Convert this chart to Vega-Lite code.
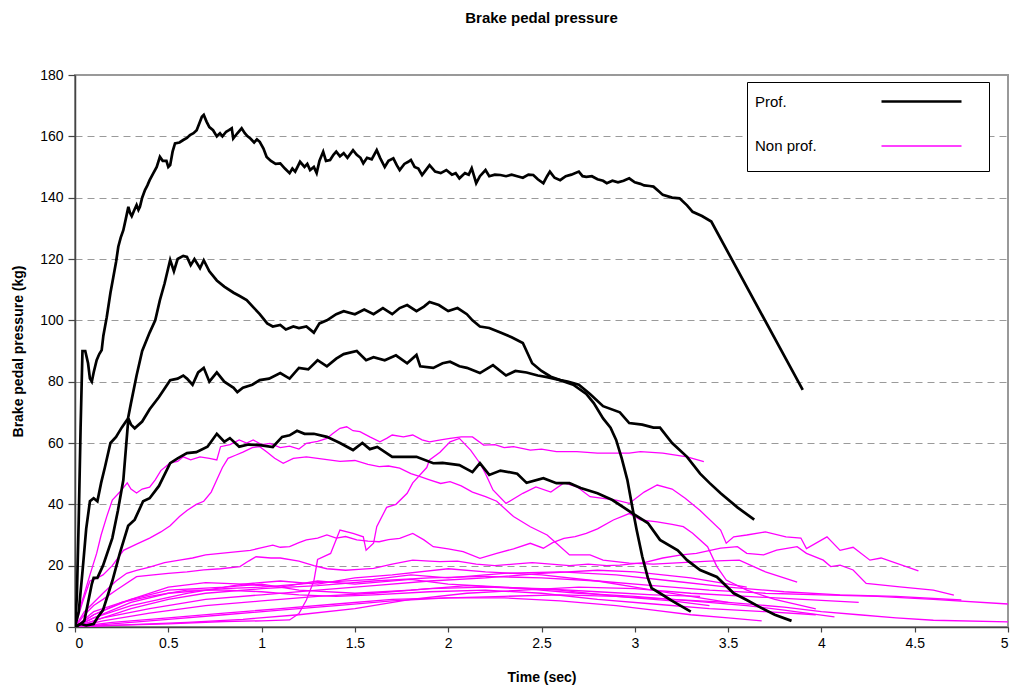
{
"$schema": "https://vega.github.io/schema/vega-lite/v6.json",
"width": 933, "height": 552,
"autosize": {"type": "none"},
"padding": {"left": 75, "top": 75, "right": 2, "bottom": 63},
"background": "white",
"title": {"text": "Brake pedal pressure", "font": "Liberation Sans", "fontSize": 15, "fontWeight": "bold", "anchor": "middle", "offset": 42, "color": "black"},
"config": {
  "view": {"stroke": "#999999", "strokeWidth": 2},
  "axis": {"labelFont": "Liberation Sans", "titleFont": "Liberation Sans", "labelFontSize": 14, "titleFontSize": 14, "titleFontWeight": "bold", "labelColor": "black", "titleColor": "black", "domainColor": "#444444", "domainWidth": 1.5, "tickColor": "#444444", "tickWidth": 1.2}
},
"datasets": {
"prof": [
{"s":"A","g":"Prof.","t":0,"v":0},{"s":"A","g":"Prof.","t":0.01,"v":10},{"s":"A","g":"Prof.","t":0.02,"v":35},{"s":"A","g":"Prof.","t":0.03,"v":65},{"s":"A","g":"Prof.","t":0.04,"v":90},{"s":"A","g":"Prof.","t":0.055,"v":90},{"s":"A","g":"Prof.","t":0.07,"v":86},{"s":"A","g":"Prof.","t":0.08,"v":81},{"s":"A","g":"Prof.","t":0.09,"v":80},{"s":"A","g":"Prof.","t":0.1,"v":83},{"s":"A","g":"Prof.","t":0.116,"v":87},{"s":"A","g":"Prof.","t":0.13,"v":89},{"s":"A","g":"Prof.","t":0.143,"v":90.3},{"s":"A","g":"Prof.","t":0.152,"v":95},{"s":"A","g":"Prof.","t":0.17,"v":101},{"s":"A","g":"Prof.","t":0.19,"v":109},{"s":"A","g":"Prof.","t":0.205,"v":114},{"s":"A","g":"Prof.","t":0.22,"v":119},{"s":"A","g":"Prof.","t":0.232,"v":124},{"s":"A","g":"Prof.","t":0.245,"v":127},{"s":"A","g":"Prof.","t":0.259,"v":129.4},{"s":"A","g":"Prof.","t":0.272,"v":133},{"s":"A","g":"Prof.","t":0.286,"v":137},{"s":"A","g":"Prof.","t":0.295,"v":135},{"s":"A","g":"Prof.","t":0.304,"v":134},{"s":"A","g":"Prof.","t":0.318,"v":136},{"s":"A","g":"Prof.","t":0.33,"v":137.6},{"s":"A","g":"Prof.","t":0.34,"v":136},{"s":"A","g":"Prof.","t":0.348,"v":137},{"s":"A","g":"Prof.","t":0.36,"v":140},{"s":"A","g":"Prof.","t":0.375,"v":142.5},{"s":"A","g":"Prof.","t":0.388,"v":144},{"s":"A","g":"Prof.","t":0.4,"v":145.7},{"s":"A","g":"Prof.","t":0.42,"v":148},{"s":"A","g":"Prof.","t":0.438,"v":150},{"s":"A","g":"Prof.","t":0.455,"v":153.3},{"s":"A","g":"Prof.","t":0.47,"v":152},{"s":"A","g":"Prof.","t":0.49,"v":152},{"s":"A","g":"Prof.","t":0.5,"v":150},{"s":"A","g":"Prof.","t":0.51,"v":150.6},{"s":"A","g":"Prof.","t":0.523,"v":155},{"s":"A","g":"Prof.","t":0.536,"v":157.7},{"s":"A","g":"Prof.","t":0.56,"v":158},{"s":"A","g":"Prof.","t":0.58,"v":158.8},{"s":"A","g":"Prof.","t":0.6,"v":159.5},{"s":"A","g":"Prof.","t":0.616,"v":160.4},{"s":"A","g":"Prof.","t":0.635,"v":161},{"s":"A","g":"Prof.","t":0.652,"v":162},{"s":"A","g":"Prof.","t":0.665,"v":164},{"s":"A","g":"Prof.","t":0.68,"v":166.4},{"s":"A","g":"Prof.","t":0.69,"v":167},{"s":"A","g":"Prof.","t":0.705,"v":164.8},{"s":"A","g":"Prof.","t":0.72,"v":163},{"s":"A","g":"Prof.","t":0.74,"v":162},{"s":"A","g":"Prof.","t":0.76,"v":160},{"s":"A","g":"Prof.","t":0.777,"v":161},{"s":"A","g":"Prof.","t":0.79,"v":160},{"s":"A","g":"Prof.","t":0.81,"v":161.5},{"s":"A","g":"Prof.","t":0.825,"v":162},{"s":"A","g":"Prof.","t":0.84,"v":162.6},{"s":"A","g":"Prof.","t":0.848,"v":159.3},{"s":"A","g":"Prof.","t":0.87,"v":161},{"s":"A","g":"Prof.","t":0.893,"v":162.6},{"s":"A","g":"Prof.","t":0.91,"v":161},{"s":"A","g":"Prof.","t":0.925,"v":160},{"s":"A","g":"Prof.","t":0.94,"v":159.3},{"s":"A","g":"Prof.","t":0.96,"v":158},{"s":"A","g":"Prof.","t":0.975,"v":159},{"s":"A","g":"Prof.","t":0.99,"v":158.2},{"s":"A","g":"Prof.","t":1.01,"v":156},{"s":"A","g":"Prof.","t":1.027,"v":153.3},{"s":"A","g":"Prof.","t":1.05,"v":152},{"s":"A","g":"Prof.","t":1.075,"v":151},{"s":"A","g":"Prof.","t":1.1,"v":151.2},{"s":"A","g":"Prof.","t":1.125,"v":149.5},{"s":"A","g":"Prof.","t":1.15,"v":148},{"s":"A","g":"Prof.","t":1.165,"v":149.5},{"s":"A","g":"Prof.","t":1.18,"v":148.5},{"s":"A","g":"Prof.","t":1.206,"v":151.7},{"s":"A","g":"Prof.","t":1.23,"v":150},{"s":"A","g":"Prof.","t":1.245,"v":151},{"s":"A","g":"Prof.","t":1.26,"v":149},{"s":"A","g":"Prof.","t":1.28,"v":150},{"s":"A","g":"Prof.","t":1.295,"v":148},{"s":"A","g":"Prof.","t":1.31,"v":152},{"s":"A","g":"Prof.","t":1.33,"v":155},{"s":"A","g":"Prof.","t":1.345,"v":152},{"s":"A","g":"Prof.","t":1.367,"v":152.3},{"s":"A","g":"Prof.","t":1.385,"v":154},{"s":"A","g":"Prof.","t":1.4,"v":155},{"s":"A","g":"Prof.","t":1.42,"v":153.5},{"s":"A","g":"Prof.","t":1.44,"v":154.5},{"s":"A","g":"Prof.","t":1.46,"v":153},{"s":"A","g":"Prof.","t":1.49,"v":155.5},{"s":"A","g":"Prof.","t":1.51,"v":154},{"s":"A","g":"Prof.","t":1.53,"v":153},{"s":"A","g":"Prof.","t":1.545,"v":151.2},{"s":"A","g":"Prof.","t":1.565,"v":153},{"s":"A","g":"Prof.","t":1.59,"v":152.5},{"s":"A","g":"Prof.","t":1.617,"v":155.5},{"s":"A","g":"Prof.","t":1.635,"v":153},{"s":"A","g":"Prof.","t":1.66,"v":150},{"s":"A","g":"Prof.","t":1.68,"v":152},{"s":"A","g":"Prof.","t":1.706,"v":152.8},{"s":"A","g":"Prof.","t":1.725,"v":150.5},{"s":"A","g":"Prof.","t":1.74,"v":149},{"s":"A","g":"Prof.","t":1.765,"v":151},{"s":"A","g":"Prof.","t":1.786,"v":151.7},{"s":"A","g":"Prof.","t":1.8,"v":152.3},{"s":"A","g":"Prof.","t":1.82,"v":150},{"s":"A","g":"Prof.","t":1.84,"v":149.5},{"s":"A","g":"Prof.","t":1.86,"v":147.4},{"s":"A","g":"Prof.","t":1.88,"v":149},{"s":"A","g":"Prof.","t":1.9,"v":150.6},{"s":"A","g":"Prof.","t":1.93,"v":148.5},{"s":"A","g":"Prof.","t":1.96,"v":148},{"s":"A","g":"Prof.","t":1.99,"v":149},{"s":"A","g":"Prof.","t":2.02,"v":147.5},{"s":"A","g":"Prof.","t":2.04,"v":148},{"s":"A","g":"Prof.","t":2.06,"v":146.3},{"s":"A","g":"Prof.","t":2.09,"v":148},{"s":"A","g":"Prof.","t":2.11,"v":147.5},{"s":"A","g":"Prof.","t":2.126,"v":149.6},{"s":"A","g":"Prof.","t":2.15,"v":144.7},{"s":"A","g":"Prof.","t":2.17,"v":147},{"s":"A","g":"Prof.","t":2.2,"v":149},{"s":"A","g":"Prof.","t":2.22,"v":147},{"s":"A","g":"Prof.","t":2.25,"v":147.5},{"s":"A","g":"Prof.","t":2.28,"v":147.4},{"s":"A","g":"Prof.","t":2.31,"v":147},{"s":"A","g":"Prof.","t":2.34,"v":147.5},{"s":"A","g":"Prof.","t":2.37,"v":147},{"s":"A","g":"Prof.","t":2.4,"v":146.5},{"s":"A","g":"Prof.","t":2.43,"v":147.5},{"s":"A","g":"Prof.","t":2.456,"v":147.4},{"s":"A","g":"Prof.","t":2.48,"v":146},{"s":"A","g":"Prof.","t":2.51,"v":144.7},{"s":"A","g":"Prof.","t":2.53,"v":147},{"s":"A","g":"Prof.","t":2.545,"v":148.5},{"s":"A","g":"Prof.","t":2.57,"v":146.5},{"s":"A","g":"Prof.","t":2.6,"v":145.7},{"s":"A","g":"Prof.","t":2.63,"v":147},{"s":"A","g":"Prof.","t":2.66,"v":147.5},{"s":"A","g":"Prof.","t":2.7,"v":148.5},{"s":"A","g":"Prof.","t":2.72,"v":147},{"s":"A","g":"Prof.","t":2.74,"v":146.8},{"s":"A","g":"Prof.","t":2.77,"v":147},{"s":"A","g":"Prof.","t":2.8,"v":146},{"s":"A","g":"Prof.","t":2.83,"v":145.5},{"s":"A","g":"Prof.","t":2.85,"v":144.7},{"s":"A","g":"Prof.","t":2.88,"v":145.5},{"s":"A","g":"Prof.","t":2.91,"v":145},{"s":"A","g":"Prof.","t":2.94,"v":145.5},{"s":"A","g":"Prof.","t":2.97,"v":146.3},{"s":"A","g":"Prof.","t":3.0,"v":145},{"s":"A","g":"Prof.","t":3.03,"v":144.5},{"s":"A","g":"Prof.","t":3.05,"v":144},{"s":"A","g":"Prof.","t":3.08,"v":143.8},{"s":"A","g":"Prof.","t":3.1,"v":143.6},{"s":"A","g":"Prof.","t":3.13,"v":142},{"s":"A","g":"Prof.","t":3.15,"v":140.9},{"s":"A","g":"Prof.","t":3.2,"v":140},{"s":"A","g":"Prof.","t":3.24,"v":139.8},{"s":"A","g":"Prof.","t":3.28,"v":137.5},{"s":"A","g":"Prof.","t":3.31,"v":135.4},{"s":"A","g":"Prof.","t":3.36,"v":134},{"s":"A","g":"Prof.","t":3.41,"v":132.2},{"s":"A","g":"Prof.","t":3.9,"v":77.3},
{"s":"B","g":"Prof.","t":0,"v":0},{"s":"B","g":"Prof.","t":0.02,"v":5},{"s":"B","g":"Prof.","t":0.04,"v":18},{"s":"B","g":"Prof.","t":0.06,"v":32},{"s":"B","g":"Prof.","t":0.08,"v":41},{"s":"B","g":"Prof.","t":0.1,"v":42},{"s":"B","g":"Prof.","t":0.12,"v":41},{"s":"B","g":"Prof.","t":0.14,"v":47},{"s":"B","g":"Prof.","t":0.16,"v":52},{"s":"B","g":"Prof.","t":0.19,"v":60},{"s":"B","g":"Prof.","t":0.22,"v":62},{"s":"B","g":"Prof.","t":0.25,"v":65},{"s":"B","g":"Prof.","t":0.284,"v":68},{"s":"B","g":"Prof.","t":0.3,"v":73},{"s":"B","g":"Prof.","t":0.33,"v":82},{"s":"B","g":"Prof.","t":0.36,"v":90},{"s":"B","g":"Prof.","t":0.4,"v":96},{"s":"B","g":"Prof.","t":0.43,"v":100},{"s":"B","g":"Prof.","t":0.455,"v":106.6},{"s":"B","g":"Prof.","t":0.48,"v":112},{"s":"B","g":"Prof.","t":0.51,"v":119.7},{"s":"B","g":"Prof.","t":0.53,"v":116},{"s":"B","g":"Prof.","t":0.55,"v":120},{"s":"B","g":"Prof.","t":0.58,"v":121},{"s":"B","g":"Prof.","t":0.6,"v":120.7},{"s":"B","g":"Prof.","t":0.62,"v":118},{"s":"B","g":"Prof.","t":0.64,"v":120},{"s":"B","g":"Prof.","t":0.67,"v":117},{"s":"B","g":"Prof.","t":0.69,"v":119.6},{"s":"B","g":"Prof.","t":0.72,"v":116},{"s":"B","g":"Prof.","t":0.76,"v":113},{"s":"B","g":"Prof.","t":0.8,"v":111},{"s":"B","g":"Prof.","t":0.85,"v":109},{"s":"B","g":"Prof.","t":0.88,"v":108},{"s":"B","g":"Prof.","t":0.92,"v":106.6},{"s":"B","g":"Prof.","t":0.96,"v":104},{"s":"B","g":"Prof.","t":0.99,"v":102},{"s":"B","g":"Prof.","t":1.03,"v":99},{"s":"B","g":"Prof.","t":1.06,"v":98},{"s":"B","g":"Prof.","t":1.1,"v":98.5},{"s":"B","g":"Prof.","t":1.13,"v":97},{"s":"B","g":"Prof.","t":1.17,"v":98},{"s":"B","g":"Prof.","t":1.2,"v":97.5},{"s":"B","g":"Prof.","t":1.24,"v":98},{"s":"B","g":"Prof.","t":1.28,"v":96},{"s":"B","g":"Prof.","t":1.31,"v":99},{"s":"B","g":"Prof.","t":1.35,"v":100},{"s":"B","g":"Prof.","t":1.4,"v":102},{"s":"B","g":"Prof.","t":1.44,"v":103},{"s":"B","g":"Prof.","t":1.5,"v":102},{"s":"B","g":"Prof.","t":1.55,"v":103.5},{"s":"B","g":"Prof.","t":1.6,"v":102},{"s":"B","g":"Prof.","t":1.65,"v":104},{"s":"B","g":"Prof.","t":1.7,"v":102},{"s":"B","g":"Prof.","t":1.74,"v":104},{"s":"B","g":"Prof.","t":1.78,"v":105},{"s":"B","g":"Prof.","t":1.83,"v":103},{"s":"B","g":"Prof.","t":1.87,"v":104.5},{"s":"B","g":"Prof.","t":1.9,"v":106},{"s":"B","g":"Prof.","t":1.95,"v":105},{"s":"B","g":"Prof.","t":2.0,"v":103},{"s":"B","g":"Prof.","t":2.05,"v":104},{"s":"B","g":"Prof.","t":2.1,"v":102},{"s":"B","g":"Prof.","t":2.13,"v":100},{"s":"B","g":"Prof.","t":2.17,"v":98},{"s":"B","g":"Prof.","t":2.22,"v":97.5},{"s":"B","g":"Prof.","t":2.28,"v":96},{"s":"B","g":"Prof.","t":2.34,"v":94.5},{"s":"B","g":"Prof.","t":2.4,"v":92.6},{"s":"B","g":"Prof.","t":2.45,"v":86},{"s":"B","g":"Prof.","t":2.5,"v":83.5},{"s":"B","g":"Prof.","t":2.55,"v":81.6},{"s":"B","g":"Prof.","t":2.6,"v":80.5},{"s":"B","g":"Prof.","t":2.67,"v":79},{"s":"B","g":"Prof.","t":2.74,"v":76},{"s":"B","g":"Prof.","t":2.78,"v":73},{"s":"B","g":"Prof.","t":2.83,"v":68},{"s":"B","g":"Prof.","t":2.87,"v":65},{"s":"B","g":"Prof.","t":2.9,"v":61},{"s":"B","g":"Prof.","t":2.93,"v":55},{"s":"B","g":"Prof.","t":2.96,"v":48},{"s":"B","g":"Prof.","t":2.99,"v":38},{"s":"B","g":"Prof.","t":3.01,"v":31.6},{"s":"B","g":"Prof.","t":3.04,"v":23},{"s":"B","g":"Prof.","t":3.07,"v":16},{"s":"B","g":"Prof.","t":3.09,"v":12.7},{"s":"B","g":"Prof.","t":3.135,"v":11},{"s":"B","g":"Prof.","t":3.2,"v":8.5},{"s":"B","g":"Prof.","t":3.3,"v":5},
{"s":"C","g":"Prof.","t":0,"v":0},{"s":"C","g":"Prof.","t":0.03,"v":1},{"s":"C","g":"Prof.","t":0.05,"v":2},{"s":"C","g":"Prof.","t":0.07,"v":8},{"s":"C","g":"Prof.","t":0.09,"v":14},{"s":"C","g":"Prof.","t":0.1,"v":16},{"s":"C","g":"Prof.","t":0.12,"v":16},{"s":"C","g":"Prof.","t":0.15,"v":20},{"s":"C","g":"Prof.","t":0.2,"v":29},{"s":"C","g":"Prof.","t":0.23,"v":38},{"s":"C","g":"Prof.","t":0.259,"v":47.9},{"s":"C","g":"Prof.","t":0.286,"v":68},{"s":"C","g":"Prof.","t":0.3,"v":66},{"s":"C","g":"Prof.","t":0.32,"v":64.8},{"s":"C","g":"Prof.","t":0.36,"v":67},{"s":"C","g":"Prof.","t":0.4,"v":71},{"s":"C","g":"Prof.","t":0.45,"v":75},{"s":"C","g":"Prof.","t":0.51,"v":80.5},{"s":"C","g":"Prof.","t":0.55,"v":81},{"s":"C","g":"Prof.","t":0.58,"v":82},{"s":"C","g":"Prof.","t":0.6,"v":81},{"s":"C","g":"Prof.","t":0.63,"v":79},{"s":"C","g":"Prof.","t":0.66,"v":83},{"s":"C","g":"Prof.","t":0.69,"v":84.5},{"s":"C","g":"Prof.","t":0.72,"v":80},{"s":"C","g":"Prof.","t":0.76,"v":83},{"s":"C","g":"Prof.","t":0.8,"v":80},{"s":"C","g":"Prof.","t":0.85,"v":78},{"s":"C","g":"Prof.","t":0.87,"v":76.6},{"s":"C","g":"Prof.","t":0.9,"v":78},{"s":"C","g":"Prof.","t":0.95,"v":79},{"s":"C","g":"Prof.","t":0.99,"v":80.5},{"s":"C","g":"Prof.","t":1.04,"v":81},{"s":"C","g":"Prof.","t":1.1,"v":82.8},{"s":"C","g":"Prof.","t":1.15,"v":81},{"s":"C","g":"Prof.","t":1.2,"v":84.5},{"s":"C","g":"Prof.","t":1.25,"v":84},{"s":"C","g":"Prof.","t":1.3,"v":87},{"s":"C","g":"Prof.","t":1.35,"v":85},{"s":"C","g":"Prof.","t":1.4,"v":87.5},{"s":"C","g":"Prof.","t":1.44,"v":89},{"s":"C","g":"Prof.","t":1.51,"v":90},{"s":"C","g":"Prof.","t":1.56,"v":87},{"s":"C","g":"Prof.","t":1.6,"v":88},{"s":"C","g":"Prof.","t":1.66,"v":87},{"s":"C","g":"Prof.","t":1.72,"v":88.6},{"s":"C","g":"Prof.","t":1.78,"v":86},{"s":"C","g":"Prof.","t":1.83,"v":88.7},{"s":"C","g":"Prof.","t":1.85,"v":85},{"s":"C","g":"Prof.","t":1.92,"v":84.5},{"s":"C","g":"Prof.","t":1.97,"v":86},{"s":"C","g":"Prof.","t":2.01,"v":86.5},{"s":"C","g":"Prof.","t":2.06,"v":85},{"s":"C","g":"Prof.","t":2.1,"v":84.5},{"s":"C","g":"Prof.","t":2.17,"v":82.8},{"s":"C","g":"Prof.","t":2.24,"v":85.4},{"s":"C","g":"Prof.","t":2.31,"v":82},{"s":"C","g":"Prof.","t":2.36,"v":83.5},{"s":"C","g":"Prof.","t":2.42,"v":83},{"s":"C","g":"Prof.","t":2.48,"v":82},{"s":"C","g":"Prof.","t":2.53,"v":81.5},{"s":"C","g":"Prof.","t":2.6,"v":80.5},{"s":"C","g":"Prof.","t":2.64,"v":80},{"s":"C","g":"Prof.","t":2.7,"v":79},{"s":"C","g":"Prof.","t":2.76,"v":76},{"s":"C","g":"Prof.","t":2.83,"v":72},{"s":"C","g":"Prof.","t":2.92,"v":70},{"s":"C","g":"Prof.","t":2.97,"v":66.5},{"s":"C","g":"Prof.","t":3.04,"v":66},{"s":"C","g":"Prof.","t":3.1,"v":65},{"s":"C","g":"Prof.","t":3.135,"v":65},{"s":"C","g":"Prof.","t":3.2,"v":60},{"s":"C","g":"Prof.","t":3.28,"v":55.5},{"s":"C","g":"Prof.","t":3.35,"v":50},{"s":"C","g":"Prof.","t":3.4,"v":47},{"s":"C","g":"Prof.","t":3.46,"v":43.6},{"s":"C","g":"Prof.","t":3.55,"v":39},{"s":"C","g":"Prof.","t":3.64,"v":35},
{"s":"E","g":"Prof.","t":0,"v":0},{"s":"E","g":"Prof.","t":0.03,"v":1},{"s":"E","g":"Prof.","t":0.06,"v":0.5},{"s":"E","g":"Prof.","t":0.1,"v":1},{"s":"E","g":"Prof.","t":0.12,"v":3},{"s":"E","g":"Prof.","t":0.15,"v":5.5},{"s":"E","g":"Prof.","t":0.2,"v":15},{"s":"E","g":"Prof.","t":0.24,"v":24},{"s":"E","g":"Prof.","t":0.285,"v":33},{"s":"E","g":"Prof.","t":0.32,"v":35},{"s":"E","g":"Prof.","t":0.365,"v":41},{"s":"E","g":"Prof.","t":0.4,"v":42},{"s":"E","g":"Prof.","t":0.45,"v":46},{"s":"E","g":"Prof.","t":0.51,"v":53.4},{"s":"E","g":"Prof.","t":0.55,"v":55},{"s":"E","g":"Prof.","t":0.6,"v":56.7},{"s":"E","g":"Prof.","t":0.65,"v":57},{"s":"E","g":"Prof.","t":0.71,"v":58.8},{"s":"E","g":"Prof.","t":0.76,"v":63},{"s":"E","g":"Prof.","t":0.8,"v":60.4},{"s":"E","g":"Prof.","t":0.83,"v":61.6},{"s":"E","g":"Prof.","t":0.88,"v":58.8},{"s":"E","g":"Prof.","t":0.93,"v":59.5},{"s":"E","g":"Prof.","t":0.99,"v":59.3},{"s":"E","g":"Prof.","t":1.06,"v":58.7},{"s":"E","g":"Prof.","t":1.11,"v":62},{"s":"E","g":"Prof.","t":1.15,"v":62.5},{"s":"E","g":"Prof.","t":1.19,"v":64},{"s":"E","g":"Prof.","t":1.23,"v":63},{"s":"E","g":"Prof.","t":1.28,"v":63},{"s":"E","g":"Prof.","t":1.35,"v":62},{"s":"E","g":"Prof.","t":1.42,"v":60},{"s":"E","g":"Prof.","t":1.49,"v":57.7},{"s":"E","g":"Prof.","t":1.54,"v":60},{"s":"E","g":"Prof.","t":1.58,"v":58},{"s":"E","g":"Prof.","t":1.62,"v":58.7},{"s":"E","g":"Prof.","t":1.7,"v":55.5},{"s":"E","g":"Prof.","t":1.76,"v":55.5},{"s":"E","g":"Prof.","t":1.83,"v":55.5},{"s":"E","g":"Prof.","t":1.92,"v":53.4},{"s":"E","g":"Prof.","t":1.97,"v":53.5},{"s":"E","g":"Prof.","t":2.06,"v":52.8},{"s":"E","g":"Prof.","t":2.13,"v":50.5},{"s":"E","g":"Prof.","t":2.17,"v":53.4},{"s":"E","g":"Prof.","t":2.22,"v":49.6},{"s":"E","g":"Prof.","t":2.28,"v":51},{"s":"E","g":"Prof.","t":2.37,"v":50},{"s":"E","g":"Prof.","t":2.42,"v":47},{"s":"E","g":"Prof.","t":2.51,"v":48.5},{"s":"E","g":"Prof.","t":2.58,"v":46.9},{"s":"E","g":"Prof.","t":2.65,"v":46.9},{"s":"E","g":"Prof.","t":2.71,"v":45.3},{"s":"E","g":"Prof.","t":2.8,"v":43.6},{"s":"E","g":"Prof.","t":2.88,"v":41.4},{"s":"E","g":"Prof.","t":2.99,"v":37},{"s":"E","g":"Prof.","t":3.07,"v":33.9},{"s":"E","g":"Prof.","t":3.135,"v":28.4},{"s":"E","g":"Prof.","t":3.23,"v":25},{"s":"E","g":"Prof.","t":3.28,"v":21.8},{"s":"E","g":"Prof.","t":3.35,"v":18.6},{"s":"E","g":"Prof.","t":3.44,"v":16.3},{"s":"E","g":"Prof.","t":3.53,"v":11},{"s":"E","g":"Prof.","t":3.6,"v":8.8},{"s":"E","g":"Prof.","t":3.67,"v":6.5},{"s":"E","g":"Prof.","t":3.75,"v":4},{"s":"E","g":"Prof.","t":3.84,"v":2}
],
"np": [
{"s":"M1","g":"Non prof.","t":0,"v":0},{"s":"M1","g":"Non prof.","t":0.01,"v":3.4},{"s":"M1","g":"Non prof.","t":0.045,"v":9.8},{"s":"M1","g":"Non prof.","t":0.08,"v":17},{"s":"M1","g":"Non prof.","t":0.116,"v":24},{"s":"M1","g":"Non prof.","t":0.14,"v":30},{"s":"M1","g":"Non prof.","t":0.17,"v":36},{"s":"M1","g":"Non prof.","t":0.2,"v":41.4},{"s":"M1","g":"Non prof.","t":0.24,"v":44},{"s":"M1","g":"Non prof.","t":0.28,"v":47},{"s":"M1","g":"Non prof.","t":0.3,"v":45},{"s":"M1","g":"Non prof.","t":0.33,"v":43.7},{"s":"M1","g":"Non prof.","t":0.36,"v":45},{"s":"M1","g":"Non prof.","t":0.4,"v":45.6},{"s":"M1","g":"Non prof.","t":0.43,"v":48},{"s":"M1","g":"Non prof.","t":0.46,"v":51},{"s":"M1","g":"Non prof.","t":0.51,"v":53.5},{"s":"M1","g":"Non prof.","t":0.55,"v":54},{"s":"M1","g":"Non prof.","t":0.58,"v":55.5},{"s":"M1","g":"Non prof.","t":0.62,"v":54.5},{"s":"M1","g":"Non prof.","t":0.67,"v":55.5},{"s":"M1","g":"Non prof.","t":0.72,"v":55},{"s":"M1","g":"Non prof.","t":0.76,"v":54.5},{"s":"M1","g":"Non prof.","t":0.78,"v":58.8},{"s":"M1","g":"Non prof.","t":0.83,"v":59.5},{"s":"M1","g":"Non prof.","t":0.88,"v":61},{"s":"M1","g":"Non prof.","t":0.92,"v":60},{"s":"M1","g":"Non prof.","t":0.955,"v":61},{"s":"M1","g":"Non prof.","t":1.0,"v":59.5},{"s":"M1","g":"Non prof.","t":1.045,"v":59.9},{"s":"M1","g":"Non prof.","t":1.1,"v":58.5},{"s":"M1","g":"Non prof.","t":1.15,"v":59},{"s":"M1","g":"Non prof.","t":1.2,"v":58},{"s":"M1","g":"Non prof.","t":1.24,"v":59.9},{"s":"M1","g":"Non prof.","t":1.3,"v":60.5},{"s":"M1","g":"Non prof.","t":1.35,"v":61.5},{"s":"M1","g":"Non prof.","t":1.38,"v":63},{"s":"M1","g":"Non prof.","t":1.42,"v":64.8},{"s":"M1","g":"Non prof.","t":1.456,"v":65.3},{"s":"M1","g":"Non prof.","t":1.49,"v":64},{"s":"M1","g":"Non prof.","t":1.527,"v":63.7},{"s":"M1","g":"Non prof.","t":1.58,"v":62},{"s":"M1","g":"Non prof.","t":1.634,"v":60.4},{"s":"M1","g":"Non prof.","t":1.67,"v":61.5},{"s":"M1","g":"Non prof.","t":1.7,"v":62.6},{"s":"M1","g":"Non prof.","t":1.76,"v":62},{"s":"M1","g":"Non prof.","t":1.81,"v":62.6},{"s":"M1","g":"Non prof.","t":1.86,"v":61},{"s":"M1","g":"Non prof.","t":1.9,"v":60.4},{"s":"M1","g":"Non prof.","t":1.96,"v":61},{"s":"M1","g":"Non prof.","t":2.01,"v":61.5},{"s":"M1","g":"Non prof.","t":2.07,"v":62},{"s":"M1","g":"Non prof.","t":2.13,"v":62},{"s":"M1","g":"Non prof.","t":2.19,"v":59.3},{"s":"M1","g":"Non prof.","t":2.25,"v":59.5},{"s":"M1","g":"Non prof.","t":2.3,"v":58.5},{"s":"M1","g":"Non prof.","t":2.35,"v":58.8},{"s":"M1","g":"Non prof.","t":2.44,"v":57.7},{"s":"M1","g":"Non prof.","t":2.5,"v":58},{"s":"M1","g":"Non prof.","t":2.58,"v":57.2},{"s":"M1","g":"Non prof.","t":2.69,"v":57.2},{"s":"M1","g":"Non prof.","t":2.8,"v":56.7},{"s":"M1","g":"Non prof.","t":2.9,"v":56.7},{"s":"M1","g":"Non prof.","t":2.97,"v":56.7},{"s":"M1","g":"Non prof.","t":3.03,"v":57.2},{"s":"M1","g":"Non prof.","t":3.15,"v":56.7},{"s":"M1","g":"Non prof.","t":3.28,"v":55.5},{"s":"M1","g":"Non prof.","t":3.37,"v":53.9},
{"s":"M2","g":"Non prof.","t":0,"v":0},{"s":"M2","g":"Non prof.","t":0.04,"v":8},{"s":"M2","g":"Non prof.","t":0.08,"v":15},{"s":"M2","g":"Non prof.","t":0.12,"v":16},{"s":"M2","g":"Non prof.","t":0.15,"v":17},{"s":"M2","g":"Non prof.","t":0.2,"v":20},{"s":"M2","g":"Non prof.","t":0.26,"v":25},{"s":"M2","g":"Non prof.","t":0.33,"v":27},{"s":"M2","g":"Non prof.","t":0.4,"v":29},{"s":"M2","g":"Non prof.","t":0.46,"v":31},{"s":"M2","g":"Non prof.","t":0.51,"v":33},{"s":"M2","g":"Non prof.","t":0.56,"v":36},{"s":"M2","g":"Non prof.","t":0.6,"v":38},{"s":"M2","g":"Non prof.","t":0.65,"v":40},{"s":"M2","g":"Non prof.","t":0.69,"v":41},{"s":"M2","g":"Non prof.","t":0.73,"v":44},{"s":"M2","g":"Non prof.","t":0.76,"v":48},{"s":"M2","g":"Non prof.","t":0.79,"v":52},{"s":"M2","g":"Non prof.","t":0.82,"v":55},{"s":"M2","g":"Non prof.","t":0.86,"v":56},{"s":"M2","g":"Non prof.","t":0.9,"v":57},{"s":"M2","g":"Non prof.","t":0.95,"v":58.5},{"s":"M2","g":"Non prof.","t":0.99,"v":58.8},{"s":"M2","g":"Non prof.","t":1.03,"v":57},{"s":"M2","g":"Non prof.","t":1.07,"v":55},{"s":"M2","g":"Non prof.","t":1.116,"v":53.4},{"s":"M2","g":"Non prof.","t":1.17,"v":55},{"s":"M2","g":"Non prof.","t":1.24,"v":55.5},{"s":"M2","g":"Non prof.","t":1.3,"v":55},{"s":"M2","g":"Non prof.","t":1.36,"v":54.5},{"s":"M2","g":"Non prof.","t":1.42,"v":54},{"s":"M2","g":"Non prof.","t":1.5,"v":54.3},{"s":"M2","g":"Non prof.","t":1.57,"v":53},{"s":"M2","g":"Non prof.","t":1.63,"v":52.3},{"s":"M2","g":"Non prof.","t":1.68,"v":52.5},{"s":"M2","g":"Non prof.","t":1.74,"v":51.8},{"s":"M2","g":"Non prof.","t":1.8,"v":50},{"s":"M2","g":"Non prof.","t":1.85,"v":49},{"s":"M2","g":"Non prof.","t":1.9,"v":48},{"s":"M2","g":"Non prof.","t":1.96,"v":46.8},{"s":"M2","g":"Non prof.","t":2.01,"v":47.4},{"s":"M2","g":"Non prof.","t":2.07,"v":46},{"s":"M2","g":"Non prof.","t":2.13,"v":44},{"s":"M2","g":"Non prof.","t":2.2,"v":42.5},{"s":"M2","g":"Non prof.","t":2.26,"v":41},{"s":"M2","g":"Non prof.","t":2.35,"v":36},{"s":"M2","g":"Non prof.","t":2.44,"v":32.7},{"s":"M2","g":"Non prof.","t":2.53,"v":30},{"s":"M2","g":"Non prof.","t":2.58,"v":27.3},{"s":"M2","g":"Non prof.","t":2.65,"v":23.5},{"s":"M2","g":"Non prof.","t":2.7,"v":23.5},{"s":"M2","g":"Non prof.","t":2.76,"v":23.5},{"s":"M2","g":"Non prof.","t":2.83,"v":21.8},{"s":"M2","g":"Non prof.","t":2.97,"v":20.8},{"s":"M2","g":"Non prof.","t":3.1,"v":20.5},{"s":"M2","g":"Non prof.","t":3.25,"v":21},{"s":"M2","g":"Non prof.","t":3.4,"v":21.5},{"s":"M2","g":"Non prof.","t":3.56,"v":21.8},{"s":"M2","g":"Non prof.","t":3.7,"v":18},{"s":"M2","g":"Non prof.","t":3.87,"v":14.6},
{"s":"M3","g":"Non prof.","t":0,"v":0},{"s":"M3","g":"Non prof.","t":0.2,"v":0.5},{"s":"M3","g":"Non prof.","t":0.5,"v":1},{"s":"M3","g":"Non prof.","t":0.8,"v":1.8},{"s":"M3","g":"Non prof.","t":1.0,"v":2},{"s":"M3","g":"Non prof.","t":1.15,"v":2.3},{"s":"M3","g":"Non prof.","t":1.2,"v":4.4},{"s":"M3","g":"Non prof.","t":1.24,"v":8.8},{"s":"M3","g":"Non prof.","t":1.28,"v":15},{"s":"M3","g":"Non prof.","t":1.3,"v":22},{"s":"M3","g":"Non prof.","t":1.37,"v":24},{"s":"M3","g":"Non prof.","t":1.42,"v":31.6},{"s":"M3","g":"Non prof.","t":1.49,"v":30.5},{"s":"M3","g":"Non prof.","t":1.545,"v":29.4},{"s":"M3","g":"Non prof.","t":1.56,"v":25},{"s":"M3","g":"Non prof.","t":1.6,"v":27.3},{"s":"M3","g":"Non prof.","t":1.617,"v":32.7},{"s":"M3","g":"Non prof.","t":1.67,"v":39},{"s":"M3","g":"Non prof.","t":1.72,"v":40},{"s":"M3","g":"Non prof.","t":1.78,"v":43.6},{"s":"M3","g":"Non prof.","t":1.81,"v":47},{"s":"M3","g":"Non prof.","t":1.885,"v":52},{"s":"M3","g":"Non prof.","t":1.9,"v":54.5},{"s":"M3","g":"Non prof.","t":1.956,"v":57},{"s":"M3","g":"Non prof.","t":2.01,"v":60.4},{"s":"M3","g":"Non prof.","t":2.06,"v":61.5},{"s":"M3","g":"Non prof.","t":2.12,"v":57.7},{"s":"M3","g":"Non prof.","t":2.17,"v":53.4},{"s":"M3","g":"Non prof.","t":2.2,"v":50},{"s":"M3","g":"Non prof.","t":2.24,"v":44.7},{"s":"M3","g":"Non prof.","t":2.31,"v":40.3},{"s":"M3","g":"Non prof.","t":2.4,"v":43.6},{"s":"M3","g":"Non prof.","t":2.47,"v":45.7},{"s":"M3","g":"Non prof.","t":2.55,"v":44},{"s":"M3","g":"Non prof.","t":2.62,"v":47},{"s":"M3","g":"Non prof.","t":2.69,"v":45.7},{"s":"M3","g":"Non prof.","t":2.76,"v":42.5},{"s":"M3","g":"Non prof.","t":2.9,"v":41.4},{"s":"M3","g":"Non prof.","t":2.97,"v":40.3},{"s":"M3","g":"Non prof.","t":3.05,"v":44},{"s":"M3","g":"Non prof.","t":3.12,"v":46.3},{"s":"M3","g":"Non prof.","t":3.2,"v":45},{"s":"M3","g":"Non prof.","t":3.27,"v":42},{"s":"M3","g":"Non prof.","t":3.35,"v":38},{"s":"M3","g":"Non prof.","t":3.46,"v":31.6},{"s":"M3","g":"Non prof.","t":3.49,"v":27.3},{"s":"M3","g":"Non prof.","t":3.53,"v":29.4},{"s":"M3","g":"Non prof.","t":3.6,"v":30},{"s":"M3","g":"Non prof.","t":3.7,"v":31},{"s":"M3","g":"Non prof.","t":3.81,"v":29.4},{"s":"M3","g":"Non prof.","t":3.89,"v":29},{"s":"M3","g":"Non prof.","t":3.92,"v":25.6},{"s":"M3","g":"Non prof.","t":4.03,"v":29.4},{"s":"M3","g":"Non prof.","t":4.1,"v":25},{"s":"M3","g":"Non prof.","t":4.17,"v":26},{"s":"M3","g":"Non prof.","t":4.26,"v":21.8},{"s":"M3","g":"Non prof.","t":4.32,"v":22.5},{"s":"M3","g":"Non prof.","t":4.52,"v":18.3},
{"s":"M4","g":"Non prof.","t":0,"v":0},{"s":"M4","g":"Non prof.","t":0.05,"v":5},{"s":"M4","g":"Non prof.","t":0.1,"v":8},{"s":"M4","g":"Non prof.","t":0.15,"v":11},{"s":"M4","g":"Non prof.","t":0.22,"v":15},{"s":"M4","g":"Non prof.","t":0.277,"v":17.5},{"s":"M4","g":"Non prof.","t":0.33,"v":18.5},{"s":"M4","g":"Non prof.","t":0.4,"v":19.5},{"s":"M4","g":"Non prof.","t":0.48,"v":21},{"s":"M4","g":"Non prof.","t":0.56,"v":21.8},{"s":"M4","g":"Non prof.","t":0.63,"v":22.5},{"s":"M4","g":"Non prof.","t":0.7,"v":23.5},{"s":"M4","g":"Non prof.","t":0.78,"v":24},{"s":"M4","g":"Non prof.","t":0.86,"v":24.5},{"s":"M4","g":"Non prof.","t":0.94,"v":25},{"s":"M4","g":"Non prof.","t":0.99,"v":25.7},{"s":"M4","g":"Non prof.","t":1.06,"v":26.7},{"s":"M4","g":"Non prof.","t":1.1,"v":26},{"s":"M4","g":"Non prof.","t":1.15,"v":26.2},{"s":"M4","g":"Non prof.","t":1.2,"v":27.5},{"s":"M4","g":"Non prof.","t":1.24,"v":28.4},{"s":"M4","g":"Non prof.","t":1.3,"v":29},{"s":"M4","g":"Non prof.","t":1.35,"v":30},{"s":"M4","g":"Non prof.","t":1.4,"v":29},{"s":"M4","g":"Non prof.","t":1.45,"v":29.5},{"s":"M4","g":"Non prof.","t":1.51,"v":28.4},{"s":"M4","g":"Non prof.","t":1.57,"v":28},{"s":"M4","g":"Non prof.","t":1.63,"v":27.8},{"s":"M4","g":"Non prof.","t":1.68,"v":28.5},{"s":"M4","g":"Non prof.","t":1.74,"v":28.9},{"s":"M4","g":"Non prof.","t":1.81,"v":30.5},{"s":"M4","g":"Non prof.","t":1.87,"v":28.4},{"s":"M4","g":"Non prof.","t":1.92,"v":26.2},{"s":"M4","g":"Non prof.","t":2.0,"v":25.5},{"s":"M4","g":"Non prof.","t":2.08,"v":24.6},{"s":"M4","g":"Non prof.","t":2.17,"v":22.4},{"s":"M4","g":"Non prof.","t":2.26,"v":24},{"s":"M4","g":"Non prof.","t":2.35,"v":25.5},{"s":"M4","g":"Non prof.","t":2.44,"v":27.3},{"s":"M4","g":"Non prof.","t":2.51,"v":25.7},{"s":"M4","g":"Non prof.","t":2.56,"v":27.5},{"s":"M4","g":"Non prof.","t":2.62,"v":28.9},{"s":"M4","g":"Non prof.","t":2.68,"v":29.5},{"s":"M4","g":"Non prof.","t":2.74,"v":30.5},{"s":"M4","g":"Non prof.","t":2.8,"v":32},{"s":"M4","g":"Non prof.","t":2.885,"v":34.9},{"s":"M4","g":"Non prof.","t":2.97,"v":37},{"s":"M4","g":"Non prof.","t":3.03,"v":34.9},{"s":"M4","g":"Non prof.","t":3.12,"v":34.3},{"s":"M4","g":"Non prof.","t":3.2,"v":33.5},{"s":"M4","g":"Non prof.","t":3.26,"v":32.7},{"s":"M4","g":"Non prof.","t":3.31,"v":30.6},{"s":"M4","g":"Non prof.","t":3.39,"v":26.2},{"s":"M4","g":"Non prof.","t":3.44,"v":19.7},{"s":"M4","g":"Non prof.","t":3.49,"v":15.3},{"s":"M4","g":"Non prof.","t":3.6,"v":12},{"s":"M4","g":"Non prof.","t":3.75,"v":9},{"s":"M4","g":"Non prof.","t":3.97,"v":5.9},
{"s":"M5","g":"Non prof.","t":0,"v":0},{"s":"M5","g":"Non prof.","t":0.05,"v":4},{"s":"M5","g":"Non prof.","t":0.1,"v":7},{"s":"M5","g":"Non prof.","t":0.15,"v":9},{"s":"M5","g":"Non prof.","t":0.22,"v":12},{"s":"M5","g":"Non prof.","t":0.33,"v":16.4},{"s":"M5","g":"Non prof.","t":0.42,"v":17},{"s":"M5","g":"Non prof.","t":0.5,"v":17.5},{"s":"M5","g":"Non prof.","t":0.6,"v":18},{"s":"M5","g":"Non prof.","t":0.69,"v":18.6},{"s":"M5","g":"Non prof.","t":0.78,"v":19},{"s":"M5","g":"Non prof.","t":0.884,"v":19.7},{"s":"M5","g":"Non prof.","t":0.93,"v":21.5},{"s":"M5","g":"Non prof.","t":0.97,"v":22.9},{"s":"M5","g":"Non prof.","t":1.05,"v":22.5},{"s":"M5","g":"Non prof.","t":1.1,"v":22.5},{"s":"M5","g":"Non prof.","t":1.2,"v":21.5},{"s":"M5","g":"Non prof.","t":1.28,"v":20},{"s":"M5","g":"Non prof.","t":1.35,"v":19},{"s":"M5","g":"Non prof.","t":1.45,"v":18.5},{"s":"M5","g":"Non prof.","t":1.52,"v":18.8},{"s":"M5","g":"Non prof.","t":1.6,"v":19.1},{"s":"M5","g":"Non prof.","t":1.7,"v":20.5},{"s":"M5","g":"Non prof.","t":1.81,"v":21.8},{"s":"M5","g":"Non prof.","t":1.9,"v":21.5},{"s":"M5","g":"Non prof.","t":1.956,"v":21.3},{"s":"M5","g":"Non prof.","t":2.05,"v":21.5},{"s":"M5","g":"Non prof.","t":2.15,"v":20.5},{"s":"M5","g":"Non prof.","t":2.25,"v":20},{"s":"M5","g":"Non prof.","t":2.35,"v":20.5},{"s":"M5","g":"Non prof.","t":2.45,"v":21},{"s":"M5","g":"Non prof.","t":2.55,"v":20.5},{"s":"M5","g":"Non prof.","t":2.65,"v":20},{"s":"M5","g":"Non prof.","t":2.75,"v":20.5},{"s":"M5","g":"Non prof.","t":2.85,"v":20},{"s":"M5","g":"Non prof.","t":2.92,"v":20.2},{"s":"M5","g":"Non prof.","t":3.05,"v":21},{"s":"M5","g":"Non prof.","t":3.15,"v":22.5},{"s":"M5","g":"Non prof.","t":3.25,"v":23.5},{"s":"M5","g":"Non prof.","t":3.33,"v":24},{"s":"M5","g":"Non prof.","t":3.46,"v":25.7},{"s":"M5","g":"Non prof.","t":3.55,"v":26.2},{"s":"M5","g":"Non prof.","t":3.6,"v":24},{"s":"M5","g":"Non prof.","t":3.69,"v":23.5},{"s":"M5","g":"Non prof.","t":3.76,"v":25.1},{"s":"M5","g":"Non prof.","t":3.87,"v":26.2},{"s":"M5","g":"Non prof.","t":3.92,"v":24},{"s":"M5","g":"Non prof.","t":4.01,"v":21.8},{"s":"M5","g":"Non prof.","t":4.05,"v":19.7},{"s":"M5","g":"Non prof.","t":4.1,"v":20.2},{"s":"M5","g":"Non prof.","t":4.17,"v":18.6},{"s":"M5","g":"Non prof.","t":4.24,"v":14.2},{"s":"M5","g":"Non prof.","t":4.42,"v":13.1},{"s":"M5","g":"Non prof.","t":4.6,"v":12},{"s":"M5","g":"Non prof.","t":4.71,"v":10.4},
{"s":"L1","g":"Non prof.","t":0,"v":0},{"s":"L1","g":"Non prof.","t":0.1,"v":2},{"s":"L1","g":"Non prof.","t":0.3,"v":6},{"s":"L1","g":"Non prof.","t":0.5,"v":9},{"s":"L1","g":"Non prof.","t":0.7,"v":11},{"s":"L1","g":"Non prof.","t":1.0,"v":12.5},{"s":"L1","g":"Non prof.","t":1.3,"v":13.5},{"s":"L1","g":"Non prof.","t":1.6,"v":15},{"s":"L1","g":"Non prof.","t":1.9,"v":16},{"s":"L1","g":"Non prof.","t":2.2,"v":16.5},{"s":"L1","g":"Non prof.","t":2.5,"v":16},{"s":"L1","g":"Non prof.","t":2.8,"v":15},{"s":"L1","g":"Non prof.","t":3.1,"v":13.5},{"s":"L1","g":"Non prof.","t":3.4,"v":12},{"s":"L1","g":"Non prof.","t":3.7,"v":11},{"s":"L1","g":"Non prof.","t":4.0,"v":10.5},{"s":"L1","g":"Non prof.","t":4.3,"v":10},{"s":"L1","g":"Non prof.","t":4.6,"v":9},{"s":"L1","g":"Non prof.","t":5.0,"v":7.5},
{"s":"L2","g":"Non prof.","t":0,"v":0},{"s":"L2","g":"Non prof.","t":0.1,"v":3},{"s":"L2","g":"Non prof.","t":0.3,"v":8},{"s":"L2","g":"Non prof.","t":0.5,"v":11},{"s":"L2","g":"Non prof.","t":0.8,"v":12.5},{"s":"L2","g":"Non prof.","t":1.0,"v":13},{"s":"L2","g":"Non prof.","t":1.3,"v":14.5},{"s":"L2","g":"Non prof.","t":1.6,"v":15.5},{"s":"L2","g":"Non prof.","t":1.8,"v":17},{"s":"L2","g":"Non prof.","t":2.0,"v":16},{"s":"L2","g":"Non prof.","t":2.3,"v":17.5},{"s":"L2","g":"Non prof.","t":2.6,"v":18},{"s":"L2","g":"Non prof.","t":2.9,"v":17},{"s":"L2","g":"Non prof.","t":3.2,"v":15},{"s":"L2","g":"Non prof.","t":3.5,"v":13},{"s":"L2","g":"Non prof.","t":3.8,"v":11.5},{"s":"L2","g":"Non prof.","t":4.1,"v":10.5},{"s":"L2","g":"Non prof.","t":4.4,"v":10},{"s":"L2","g":"Non prof.","t":4.75,"v":8.8},
{"s":"L3","g":"Non prof.","t":0,"v":0},{"s":"L3","g":"Non prof.","t":0.2,"v":1},{"s":"L3","g":"Non prof.","t":0.5,"v":2.5},{"s":"L3","g":"Non prof.","t":0.8,"v":4},{"s":"L3","g":"Non prof.","t":1.1,"v":5.5},{"s":"L3","g":"Non prof.","t":1.4,"v":7},{"s":"L3","g":"Non prof.","t":1.7,"v":8.5},{"s":"L3","g":"Non prof.","t":2.0,"v":9.5},{"s":"L3","g":"Non prof.","t":2.3,"v":10},{"s":"L3","g":"Non prof.","t":2.6,"v":10.5},{"s":"L3","g":"Non prof.","t":2.9,"v":10},{"s":"L3","g":"Non prof.","t":3.2,"v":9},{"s":"L3","g":"Non prof.","t":3.5,"v":8},{"s":"L3","g":"Non prof.","t":3.8,"v":6.5},{"s":"L3","g":"Non prof.","t":4.0,"v":5},{"s":"L3","g":"Non prof.","t":4.2,"v":4},{"s":"L3","g":"Non prof.","t":4.4,"v":3},{"s":"L3","g":"Non prof.","t":4.6,"v":2.2},{"s":"L3","g":"Non prof.","t":5.0,"v":1.7},
{"s":"L4","g":"Non prof.","t":0,"v":0},{"s":"L4","g":"Non prof.","t":0.1,"v":4},{"s":"L4","g":"Non prof.","t":0.3,"v":9},{"s":"L4","g":"Non prof.","t":0.5,"v":12},{"s":"L4","g":"Non prof.","t":0.8,"v":13},{"s":"L4","g":"Non prof.","t":1.0,"v":14},{"s":"L4","g":"Non prof.","t":1.2,"v":12},{"s":"L4","g":"Non prof.","t":1.5,"v":11},{"s":"L4","g":"Non prof.","t":1.8,"v":12},{"s":"L4","g":"Non prof.","t":2.1,"v":13.5},{"s":"L4","g":"Non prof.","t":2.4,"v":12.5},{"s":"L4","g":"Non prof.","t":2.7,"v":11},{"s":"L4","g":"Non prof.","t":3.0,"v":10},{"s":"L4","g":"Non prof.","t":3.3,"v":8.5},{"s":"L4","g":"Non prof.","t":3.6,"v":7},{"s":"L4","g":"Non prof.","t":3.8,"v":5.5},{"s":"L4","g":"Non prof.","t":4.07,"v":3.3},
{"s":"L5","g":"Non prof.","t":0,"v":0},{"s":"L5","g":"Non prof.","t":0.2,"v":1.5},{"s":"L5","g":"Non prof.","t":0.5,"v":3},{"s":"L5","g":"Non prof.","t":0.8,"v":4.5},{"s":"L5","g":"Non prof.","t":1.1,"v":6},{"s":"L5","g":"Non prof.","t":1.4,"v":7.5},{"s":"L5","g":"Non prof.","t":1.7,"v":9},{"s":"L5","g":"Non prof.","t":2.0,"v":9.5},{"s":"L5","g":"Non prof.","t":2.3,"v":9.5},{"s":"L5","g":"Non prof.","t":2.6,"v":8.5},{"s":"L5","g":"Non prof.","t":2.9,"v":7},{"s":"L5","g":"Non prof.","t":3.1,"v":5.5},{"s":"L5","g":"Non prof.","t":3.3,"v":4},{"s":"L5","g":"Non prof.","t":3.5,"v":3},{"s":"L5","g":"Non prof.","t":3.68,"v":2},
{"s":"L6","g":"Non prof.","t":0,"v":0},{"s":"L6","g":"Non prof.","t":0.1,"v":3},{"s":"L6","g":"Non prof.","t":0.3,"v":7},{"s":"L6","g":"Non prof.","t":0.6,"v":11},{"s":"L6","g":"Non prof.","t":0.9,"v":14},{"s":"L6","g":"Non prof.","t":1.1,"v":15},{"s":"L6","g":"Non prof.","t":1.3,"v":14},{"s":"L6","g":"Non prof.","t":1.5,"v":16},{"s":"L6","g":"Non prof.","t":1.7,"v":17},{"s":"L6","g":"Non prof.","t":2.0,"v":19},{"s":"L6","g":"Non prof.","t":2.2,"v":18},{"s":"L6","g":"Non prof.","t":2.5,"v":17},{"s":"L6","g":"Non prof.","t":2.8,"v":15},{"s":"L6","g":"Non prof.","t":3.0,"v":13},{"s":"L6","g":"Non prof.","t":3.2,"v":11},{"s":"L6","g":"Non prof.","t":3.5,"v":8},
{"s":"L7","g":"Non prof.","t":0,"v":0},{"s":"L7","g":"Non prof.","t":0.15,"v":3},{"s":"L7","g":"Non prof.","t":0.4,"v":6},{"s":"L7","g":"Non prof.","t":0.7,"v":9},{"s":"L7","g":"Non prof.","t":1.0,"v":10.5},{"s":"L7","g":"Non prof.","t":1.3,"v":12},{"s":"L7","g":"Non prof.","t":1.6,"v":13.5},{"s":"L7","g":"Non prof.","t":1.9,"v":15},{"s":"L7","g":"Non prof.","t":2.2,"v":16},{"s":"L7","g":"Non prof.","t":2.5,"v":17.5},{"s":"L7","g":"Non prof.","t":2.8,"v":18.5},{"s":"L7","g":"Non prof.","t":3.0,"v":18},{"s":"L7","g":"Non prof.","t":3.3,"v":16},{"s":"L7","g":"Non prof.","t":3.6,"v":13},
{"s":"L8","g":"Non prof.","t":0,"v":0},{"s":"L8","g":"Non prof.","t":0.1,"v":5},{"s":"L8","g":"Non prof.","t":0.3,"v":9},{"s":"L8","g":"Non prof.","t":0.5,"v":13},{"s":"L8","g":"Non prof.","t":0.7,"v":14.5},{"s":"L8","g":"Non prof.","t":0.9,"v":14},{"s":"L8","g":"Non prof.","t":1.1,"v":13},{"s":"L8","g":"Non prof.","t":1.3,"v":15},{"s":"L8","g":"Non prof.","t":1.5,"v":14},{"s":"L8","g":"Non prof.","t":1.8,"v":15.5},{"s":"L8","g":"Non prof.","t":2.0,"v":14},{"s":"L8","g":"Non prof.","t":2.3,"v":13},{"s":"L8","g":"Non prof.","t":2.6,"v":12},{"s":"L8","g":"Non prof.","t":2.9,"v":10},{"s":"L8","g":"Non prof.","t":3.2,"v":8.5},{"s":"L8","g":"Non prof.","t":3.4,"v":7},
{"s":"L9","g":"Non prof.","t":0,"v":0},{"s":"L9","g":"Non prof.","t":0.3,"v":0.8},{"s":"L9","g":"Non prof.","t":0.6,"v":1.5},{"s":"L9","g":"Non prof.","t":0.9,"v":2.5},{"s":"L9","g":"Non prof.","t":1.2,"v":4},{"s":"L9","g":"Non prof.","t":1.5,"v":6},{"s":"L9","g":"Non prof.","t":1.8,"v":9},{"s":"L9","g":"Non prof.","t":2.1,"v":11},{"s":"L9","g":"Non prof.","t":2.4,"v":12},{"s":"L9","g":"Non prof.","t":2.7,"v":13},{"s":"L9","g":"Non prof.","t":3.0,"v":12.5},{"s":"L9","g":"Non prof.","t":3.3,"v":11},{"s":"L9","g":"Non prof.","t":3.6,"v":10},{"s":"L9","g":"Non prof.","t":3.9,"v":9},{"s":"L9","g":"Non prof.","t":4.2,"v":8},
{"s":"L10","g":"Non prof.","t":0,"v":0},{"s":"L10","g":"Non prof.","t":0.15,"v":2},{"s":"L10","g":"Non prof.","t":0.4,"v":4.5},{"s":"L10","g":"Non prof.","t":0.7,"v":7},{"s":"L10","g":"Non prof.","t":1.0,"v":8.5},{"s":"L10","g":"Non prof.","t":1.3,"v":10},{"s":"L10","g":"Non prof.","t":1.6,"v":11},{"s":"L10","g":"Non prof.","t":1.9,"v":12.5},{"s":"L10","g":"Non prof.","t":2.2,"v":13},{"s":"L10","g":"Non prof.","t":2.5,"v":12.5},{"s":"L10","g":"Non prof.","t":2.8,"v":11.5},{"s":"L10","g":"Non prof.","t":3.1,"v":10.5},{"s":"L10","g":"Non prof.","t":3.35,"v":10},
{"s":"L11","g":"Non prof.","t":0,"v":0},{"s":"L11","g":"Non prof.","t":0.1,"v":4},{"s":"L11","g":"Non prof.","t":0.25,"v":8},{"s":"L11","g":"Non prof.","t":0.4,"v":10},{"s":"L11","g":"Non prof.","t":0.6,"v":12},{"s":"L11","g":"Non prof.","t":0.8,"v":12},{"s":"L11","g":"Non prof.","t":1.0,"v":11.5},{"s":"L11","g":"Non prof.","t":1.2,"v":10.5},{"s":"L11","g":"Non prof.","t":1.4,"v":10},{"s":"L11","g":"Non prof.","t":1.6,"v":10.5},{"s":"L11","g":"Non prof.","t":1.9,"v":11.5},{"s":"L11","g":"Non prof.","t":2.2,"v":12},{"s":"L11","g":"Non prof.","t":2.5,"v":11},{"s":"L11","g":"Non prof.","t":2.8,"v":9},{"s":"L11","g":"Non prof.","t":3.1,"v":7.5},{"s":"L11","g":"Non prof.","t":3.4,"v":6},{"s":"L11","g":"Non prof.","t":3.7,"v":5},{"s":"L11","g":"Non prof.","t":3.97,"v":4}
]
},
"layer": [
  {
    "data": {"name": "np"},
    "mark": {"type": "line", "clip": true},
    "encoding": {
      "x": {"field": "t", "type": "quantitative", "scale": {"domain": [0, 5], "nice": false}, "axis": {"title": "Time (sec)", "values": [0,0.5,1,1.5,2,2.5,3,3.5,4,4.5,5], "format": "~g", "grid": false, "tickSize": 5, "labelPadding": 4, "titlePadding": 20}},
      "y": {"field": "v", "type": "quantitative", "scale": {"domain": [0, 180], "nice": false}, "axis": {"title": "Brake pedal pressure (kg)", "values": [0,20,40,60,80,100,120,140,160,180], "grid": true, "gridDash": [7,5], "gridColor": "#9a9a9a", "gridWidth": 1, "tickSize": 7, "labelPadding": 5, "titlePadding": 14}},
      "detail": {"field": "s"},
      "color": {"field": "g", "type": "nominal", "scale": {"domain": ["Prof.", "Non prof."], "range": ["#000000", "#FF00FF"]}, "legend": {"title": null, "orient": "none", "legendX": 672, "legendY": 7, "padding": 8, "strokeColor": "#000000", "fillColor": "#ffffff", "symbolType": "M11.5,0H19.5M20.9,1.4", "symbolSize": 400, "labelFont": "Liberation Sans", "labelFontSize": 15, "labelColor": "#000000", "labelOffset": -23, "rowPadding": 14}},
      "strokeWidth": {"field": "g", "type": "nominal", "scale": {"domain": ["Prof.", "Non prof."], "range": [2.7, 1.3]}, "legend": {"title": null, "orient": "none", "legendX": 672, "legendY": 7, "padding": 8, "strokeColor": "#000000", "fillColor": "#ffffff", "symbolType": "M11.5,0H19.5M20.9,1.4", "symbolSize": 400, "labelFont": "Liberation Sans", "labelFontSize": 15, "labelColor": "#000000", "labelOffset": -23, "rowPadding": 14}}
    }
  },
  {
    "data": {"name": "prof"},
    "mark": {"type": "line", "clip": true},
    "encoding": {
      "x": {"field": "t", "type": "quantitative"},
      "y": {"field": "v", "type": "quantitative"},
      "detail": {"field": "s"},
      "color": {"field": "g", "type": "nominal"},
      "strokeWidth": {"field": "g", "type": "nominal"}
    }
  }
]
}
